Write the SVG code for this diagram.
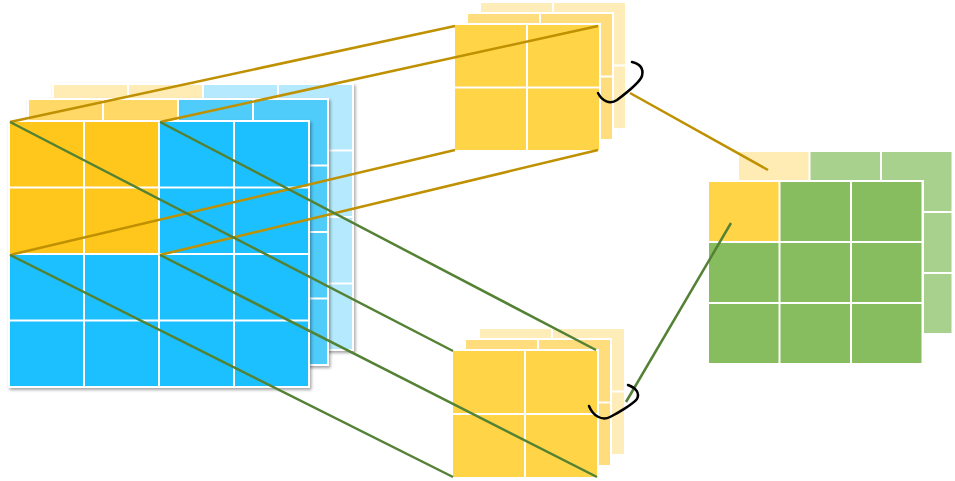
<svg xmlns="http://www.w3.org/2000/svg" width="955" height="481" viewBox="0 0 955 481">
<defs>
<filter id="sh" x="-10%" y="-10%" width="120%" height="120%">
<feDropShadow dx="1.5" dy="2" stdDeviation="1.8" flood-color="#000" flood-opacity="0.35"/>
</filter>
</defs>
<style>
.bg{fill:#ffffff}
.y1{fill:#FFC61F}.b1{fill:#1EC0FE}
.y2{fill:#FFD866}.b2{fill:#4FCCFA}
.y3{fill:#FFEBB4}.b3{fill:#B5E9FD}
.t1{fill:#FFD447}.t2{fill:#FFDC7C}.t3{fill:#FFEDB9}
.g1{fill:#87BC5F}.g3{fill:#A9D18E}
.gold{stroke:#BF9000;stroke-width:2.5;fill:none}
.grn{stroke:#548235;stroke-width:2.5;fill:none}
.br{stroke:#000;stroke-width:2.5;fill:none;stroke-linecap:round;stroke-linejoin:round}
</style>
<rect width="955" height="481" fill="#ffffff"/>

<g id="input-back" filter="url(#sh)">
<rect class="bg" x="52" y="83" width="302" height="268"/>
<rect class="y3" x="54" y="85" width="73" height="64.5"/><rect class="y3" x="129" y="85" width="73" height="64.5"/><rect class="b3" x="204" y="85" width="73" height="64.5"/><rect class="b3" x="279" y="85" width="73" height="64.5"/>
<rect class="b3" x="279" y="151.5" width="73" height="64.5"/><rect class="b3" x="279" y="218" width="73" height="64.5"/><rect class="b3" x="279" y="284.5" width="73" height="64.5"/>
</g>
<g id="input-middle" filter="url(#sh)">
<rect class="bg" x="27" y="98" width="302" height="268"/>
<rect class="y2" x="29" y="100" width="73" height="64.5"/><rect class="y2" x="104" y="100" width="73" height="64.5"/><rect class="b2" x="179" y="100" width="73" height="64.5"/><rect class="b2" x="254" y="100" width="73" height="64.5"/>
<rect class="b2" x="254" y="166.5" width="73" height="64.5"/><rect class="b2" x="254" y="233" width="73" height="64.5"/><rect class="b2" x="254" y="299.5" width="73" height="64.5"/>
</g>
<g id="input-front" filter="url(#sh)">
<rect class="bg" x="8" y="120" width="302" height="268"/>
<rect class="y1" x="10" y="122" width="73" height="64.5"/><rect class="y1" x="85" y="122" width="73" height="64.5"/><rect class="b1" x="160" y="122" width="73" height="64.5"/><rect class="b1" x="235" y="122" width="73" height="64.5"/>
<rect class="y1" x="10" y="188.5" width="73" height="64.5"/><rect class="y1" x="85" y="188.5" width="73" height="64.5"/><rect class="b1" x="160" y="188.5" width="73" height="64.5"/><rect class="b1" x="235" y="188.5" width="73" height="64.5"/>
<rect class="b1" x="10" y="255" width="73" height="64.5"/><rect class="b1" x="85" y="255" width="73" height="64.5"/><rect class="b1" x="160" y="255" width="73" height="64.5"/><rect class="b1" x="235" y="255" width="73" height="64.5"/>
<rect class="b1" x="10" y="321.5" width="73" height="64.5"/><rect class="b1" x="85" y="321.5" width="73" height="64.5"/><rect class="b1" x="160" y="321.5" width="73" height="64.5"/><rect class="b1" x="235" y="321.5" width="73" height="64.5"/>
</g>

<g id="kernel-top">
<rect class="t3" x="481" y="3" width="71" height="61.5"/><rect class="t3" x="554" y="3" width="71" height="61.5"/><rect class="t3" x="554" y="66.5" width="71" height="61.5"/>
<rect class="bg" x="466" y="12" width="148" height="129"/>
<rect class="t2" x="468" y="14" width="71" height="61.5"/><rect class="t2" x="541" y="14" width="71" height="61.5"/><rect class="t2" x="541" y="77.5" width="71" height="61.5"/>
<rect class="bg" x="453" y="23" width="148" height="129"/>
<rect class="t1" x="455" y="25" width="71" height="61.5"/><rect class="t1" x="528" y="25" width="71" height="61.5"/>
<rect class="t1" x="455" y="88.5" width="71" height="61.5"/><rect class="t1" x="528" y="88.5" width="71" height="61.5"/>
</g>

<g id="kernel-bottom">
<rect class="t3" x="480" y="329" width="71" height="61.5"/><rect class="t3" x="553" y="329" width="71" height="61.5"/><rect class="t3" x="553" y="392.5" width="71" height="61.5"/>
<rect class="bg" x="464" y="338" width="148" height="129"/>
<rect class="t2" x="466" y="340" width="71" height="61.5"/><rect class="t2" x="539" y="340" width="71" height="61.5"/><rect class="t2" x="539" y="403.5" width="71" height="61.5"/>
<rect class="bg" x="451" y="349" width="148" height="130"/>
<rect class="t1" x="453" y="351" width="71" height="62"/><rect class="t1" x="526" y="351" width="71" height="62"/>
<rect class="t1" x="453" y="415" width="71" height="62"/><rect class="t1" x="526" y="415" width="71" height="62"/>
</g>

<g id="output-back">
<rect class="y3" x="739" y="152" width="69.5" height="59"/><rect class="g3" x="810.5" y="152" width="69.5" height="59"/><rect class="g3" x="882" y="152" width="69.5" height="59"/>
<rect class="g3" x="882" y="213" width="69.5" height="59"/><rect class="g3" x="882" y="274" width="69.5" height="59"/>
</g>
<g id="output-front">
<rect class="bg" x="707" y="180" width="217" height="185"/>
<rect class="t1" x="709" y="182" width="69.5" height="59"/><rect class="g1" x="780.5" y="182" width="69.5" height="59"/><rect class="g1" x="852" y="182" width="69.5" height="59"/>
<rect class="g1" x="709" y="243" width="69.5" height="59"/><rect class="g1" x="780.5" y="243" width="69.5" height="59"/><rect class="g1" x="852" y="243" width="69.5" height="59"/>
<rect class="g1" x="709" y="304" width="69.5" height="59"/><rect class="g1" x="780.5" y="304" width="69.5" height="59"/><rect class="g1" x="852" y="304" width="69.5" height="59"/>
</g>

<g id="connectors">
<line class="gold" x1="10" y1="122" x2="455" y2="26"/>
<line class="gold" x1="160" y1="122" x2="598" y2="26"/>
<line class="gold" x1="10" y1="255" x2="455" y2="150"/>
<line class="gold" x1="160" y1="255" x2="598" y2="150"/>
<line class="gold" x1="630" y1="93" x2="768" y2="170"/>
<line class="grn" x1="10" y1="122" x2="453" y2="351"/>
<line class="grn" x1="160" y1="122" x2="596" y2="350"/>
<line class="grn" x1="10" y1="255" x2="453" y2="477"/>
<line class="grn" x1="160" y1="255" x2="597" y2="477"/>
<line class="grn" x1="626" y1="402" x2="731" y2="223"/>
<path class="br" d="M632,62 C640,64 644,68 642,76 C640,82 625,94 617,100 C610,105 602,101 598,93"/>
<path class="br" d="M628,385 C636,388 640,393 637,399 C633,404 618,413 610,417 C602,421 593,416 589,406"/>
</g>
</svg>
